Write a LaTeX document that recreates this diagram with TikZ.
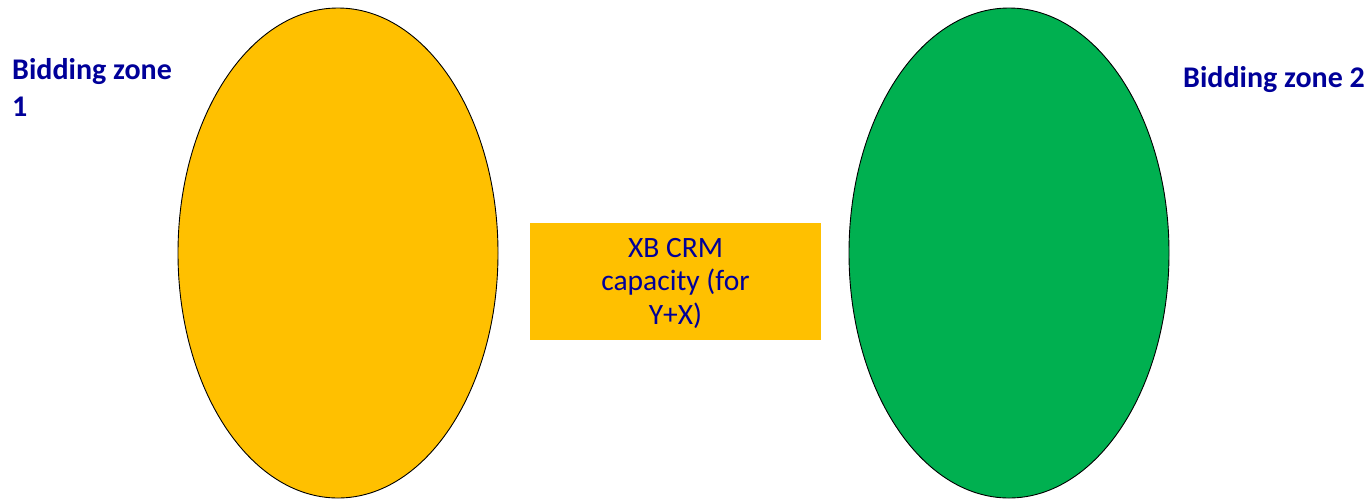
\documentclass[tikz,border=0pt]{standalone}
\usepackage{fontspec}
\setmainfont{Carlito}
\usetikzlibrary{shapes.geometric}
\definecolor{zoneorange}{HTML}{FFC000}
\definecolor{zonegreen}{HTML}{00B050}
\definecolor{labelblue}{HTML}{000099}
\begin{document}
\begin{tikzpicture}[x=1pt,y=-1pt,
  zone/.style={ellipse, draw=black, line width=0.9pt, minimum width=320pt, minimum height=490pt, inner sep=0pt},
  zonelabel/.style={text=labelblue, font=\fontsize{30}{37}\selectfont\bfseries, inner sep=0pt, align=left},
  capbox/.style={fill=zoneorange, draw=none, minimum width=291pt, minimum height=117pt, inner sep=0pt,
    text=labelblue, align=center, font=\fontsize{29.5}{33.5}\selectfont}]
\useasboundingbox (0,0) rectangle (1368,499);
\node[zone, fill=zoneorange] (z1) at (338,253) {};
\node[zone, fill=zonegreen] (z2) at (1009,253) {};
\node[capbox] (cap) at (675.5,281.5) {};
\node[text=labelblue, align=center, font=\fontsize{29.5}{33.5}\selectfont, inner sep=0pt] (captext) at (675.5,283) {XB CRM\\capacity (for\\Y+X)};
\node[zonelabel, anchor=north west] (l1) at (12,58) {Bidding zone\\1};
\node[zonelabel, anchor=base west] (l2) at (1183,87) {Bidding zone 2};
\end{tikzpicture}
\end{document}
